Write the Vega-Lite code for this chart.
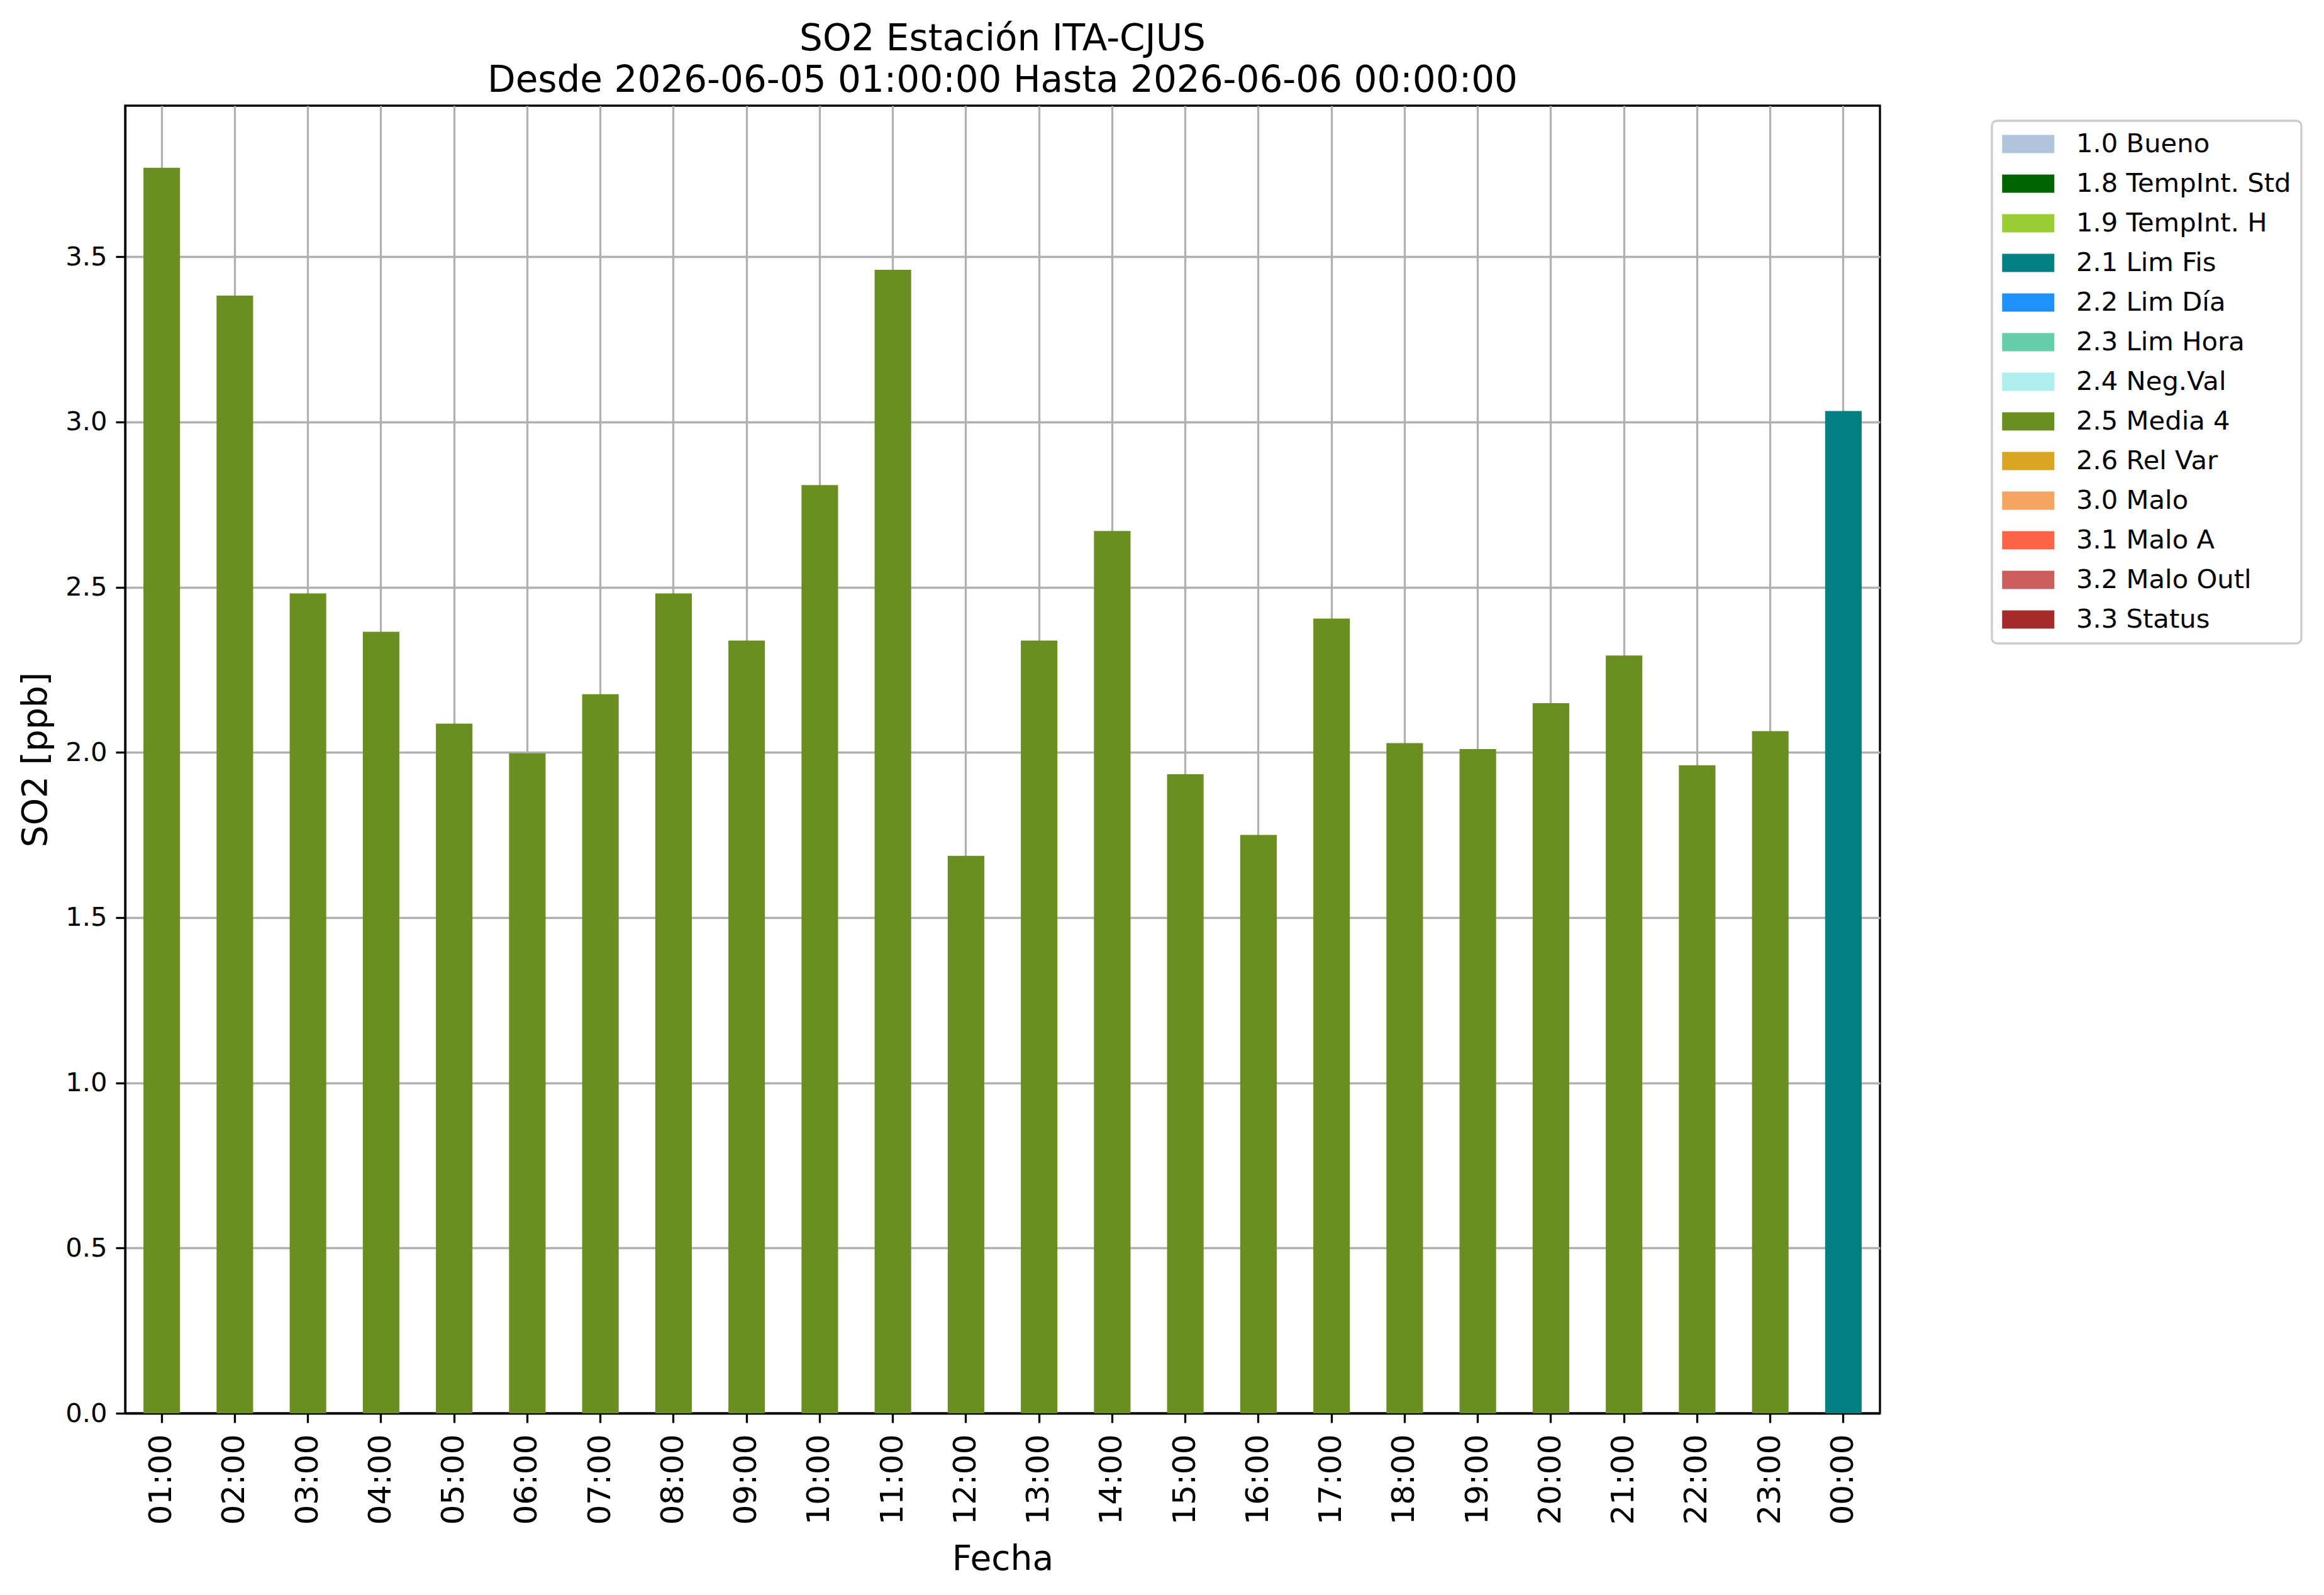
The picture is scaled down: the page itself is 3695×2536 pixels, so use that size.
{
  "$schema": "https://vega.github.io/schema/vega-lite/v6.json",
  "autosize": "none",
  "width": 2790,
  "height": 2079,
  "padding": {"left": 199, "top": 168, "right": 706, "bottom": 289},
  "background": "white",
  "config": {
    "font": "DejaVu Sans",
    "view": {"stroke": "black", "strokeWidth": 3.3},
    "axis": {
      "domainColor": "black",
      "domainWidth": 3.3,
      "tickColor": "black",
      "tickWidth": 3.3,
      "tickSize": 15,
      "gridColor": "#b0b0b0",
      "gridWidth": 3.3,
      "gridOpacity": 1,
      "labelColor": "black",
      "titleColor": "black",
      "titleFont": "DejaVu Sans",
      "labelFont": "DejaVu Sans",
      "titleFontWeight": "normal",
      "zindex": 1
    },
    "legend": {"strokeWidth": 3.3}
  },
  "title": {
    "text": ["SO2 Estación ITA-CJUS", "Desde 2026-06-05 01:00:00 Hasta 2026-06-06 00:00:00"],
    "fontSize": 58,
    "fontWeight": "normal",
    "font": "DejaVu Sans",
    "color": "black",
    "lineHeight": 66,
    "anchor": "middle",
    "frame": "group",
    "offset": 10
  },
  "data": {
    "values": [
      {"hora": "01:00", "so2": 3.769, "flag": "2.5 Media 4"},
      {"hora": "02:00", "so2": 3.382, "flag": "2.5 Media 4"},
      {"hora": "03:00", "so2": 2.481, "flag": "2.5 Media 4"},
      {"hora": "04:00", "so2": 2.365, "flag": "2.5 Media 4"},
      {"hora": "05:00", "so2": 2.087, "flag": "2.5 Media 4"},
      {"hora": "06:00", "so2": 1.997, "flag": "2.5 Media 4"},
      {"hora": "07:00", "so2": 2.176, "flag": "2.5 Media 4"},
      {"hora": "08:00", "so2": 2.481, "flag": "2.5 Media 4"},
      {"hora": "09:00", "so2": 2.338, "flag": "2.5 Media 4"},
      {"hora": "10:00", "so2": 2.809, "flag": "2.5 Media 4"},
      {"hora": "11:00", "so2": 3.460, "flag": "2.5 Media 4"},
      {"hora": "12:00", "so2": 1.687, "flag": "2.5 Media 4"},
      {"hora": "13:00", "so2": 2.338, "flag": "2.5 Media 4"},
      {"hora": "14:00", "so2": 2.670, "flag": "2.5 Media 4"},
      {"hora": "15:00", "so2": 1.934, "flag": "2.5 Media 4"},
      {"hora": "16:00", "so2": 1.750, "flag": "2.5 Media 4"},
      {"hora": "17:00", "so2": 2.405, "flag": "2.5 Media 4"},
      {"hora": "18:00", "so2": 2.028, "flag": "2.5 Media 4"},
      {"hora": "19:00", "so2": 2.010, "flag": "2.5 Media 4"},
      {"hora": "20:00", "so2": 2.149, "flag": "2.5 Media 4"},
      {"hora": "21:00", "so2": 2.293, "flag": "2.5 Media 4"},
      {"hora": "22:00", "so2": 1.961, "flag": "2.5 Media 4"},
      {"hora": "23:00", "so2": 2.064, "flag": "2.5 Media 4"},
      {"hora": "00:00", "so2": 3.033, "flag": "2.1 Lim Fis"}
    ]
  },
  "mark": {"type": "bar"},
  "encoding": {
    "x": {
      "field": "hora",
      "type": "nominal",
      "sort": null,
      "scale": {"paddingInner": 0.5, "paddingOuter": 0.25},
      "axis": {
        "title": "Fecha",
        "titleFontSize": 55,
        "titleBaseline": "alphabetic",
        "titleY": 248,
        "labelFontSize": 50,
        "labelAngle": -90,
        "labelAlign": "right",
        "labelBaseline": "middle",
        "labelPadding": 18,
        "bandPosition": 0.5,
        "grid": true
      }
    },
    "y": {
      "field": "so2",
      "type": "quantitative",
      "scale": {"domain": [0, 3.957], "nice": false, "zero": true},
      "axis": {
        "title": "SO2 [ppb]",
        "titleFontSize": 55,
        "titleBaseline": "alphabetic",
        "titleAngle": -90,
        "titleX": -126,
        "labelFontSize": 41.7,
        "labelPadding": 14,
        "values": [0, 0.5, 1, 1.5, 2, 2.5, 3, 3.5],
        "format": ".1f",
        "grid": true
      }
    },
    "color": {
      "field": "flag",
      "type": "nominal",
      "scale": {
        "domain": ["1.0 Bueno", "1.8 TempInt. Std", "1.9 TempInt. H", "2.1 Lim Fis", "2.2 Lim Día", "2.3 Lim Hora", "2.4 Neg.Val", "2.5 Media 4", "2.6 Rel Var", "3.0 Malo", "3.1 Malo A", "3.2 Malo Outl", "3.3 Status"],
        "range": ["#b0c4de", "#006400", "#9acd32", "#008080", "#1e90ff", "#66cdaa", "#afeeee", "#6b8e23", "#daa520", "#f4a460", "#ff6347", "#cd5c5c", "#a52a2a"]
      },
      "legend": {
        "title": null,
        "orient": "none",
        "legendX": 2968,
        "legendY": 24,
        "symbolType": "M-1,-0.7L3,-0.7L3,0.7L-1,0.7Z",
        "symbolSize": 1722,
        "symbolStrokeWidth": 0,
        "labelFontSize": 41.7,
        "labelFont": "DejaVu Sans",
        "labelColor": "black",
        "labelOffset": 76,
        "labelLimit": 1000,
        "rowPadding": 20,
        "padding": 16,
        "fillColor": "white",
        "strokeColor": "#cccccc",
        "cornerRadius": 8
      }
    }
  }
}
